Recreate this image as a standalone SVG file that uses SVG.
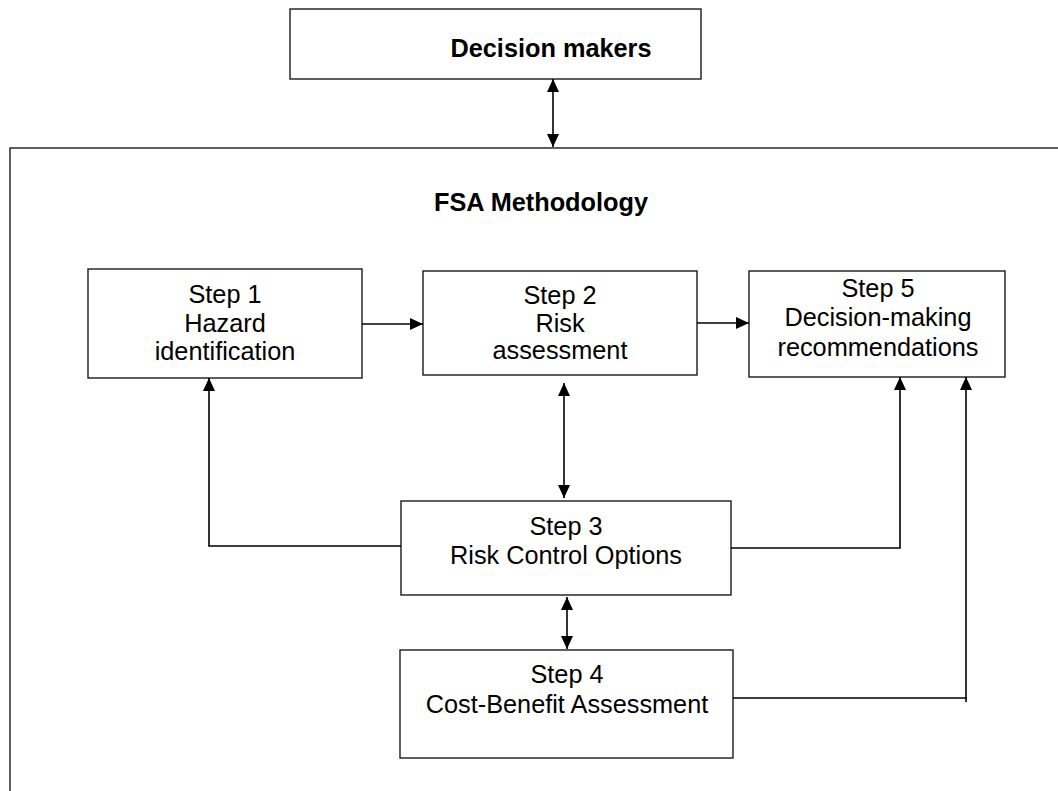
<svg xmlns="http://www.w3.org/2000/svg" width="1058" height="791" viewBox="0 0 1058 791">
<style>
.box{fill:#fff;stroke:#1a1a1a;stroke-width:1.4}
.t{font-family:"Liberation Sans",Arial,sans-serif;font-size:25.3px;fill:#000;text-anchor:middle}
.b{font-weight:bold}
.c{fill:none;stroke:#000;stroke-width:1.6}
</style>
<defs>
<marker id="ah" viewBox="0 0 13 12" refX="13" refY="6" markerWidth="13" markerHeight="12" markerUnits="userSpaceOnUse" orient="auto-start-reverse">
<path d="M0,0 L13,6 L0,12 Z" fill="#000"/>
</marker>
</defs>
<rect width="1058" height="791" fill="#fff"/>
<g id="frame">
<rect class="box" x="10" y="148" width="1100" height="700"/>
<text class="t b" x="541" y="211">FSA Methodology</text>
</g>
<g id="decision-makers">
<rect class="box" x="290" y="9" width="411" height="70"/>
<text class="t b" x="551" y="57">Decision makers</text>
</g>
<g id="step1">
<rect class="box" x="88" y="269" width="274" height="109"/>
<text class="t" x="225" y="303">Step 1</text>
<text class="t" x="225" y="332">Hazard</text>
<text class="t" x="225" y="360">identification</text>
</g>
<g id="step2">
<rect class="box" x="423" y="271" width="274" height="104"/>
<text class="t" x="560" y="304">Step 2</text>
<text class="t" x="560" y="332">Risk</text>
<text class="t" x="560" y="359">assessment</text>
</g>
<g id="step5">
<rect class="box" x="749" y="271" width="256" height="106"/>
<text class="t" x="878" y="297">Step 5</text>
<text class="t" x="878" y="326">Decision-making</text>
<text class="t" x="878" y="356">recommendations</text>
</g>
<g id="step3">
<rect class="box" x="401" y="501" width="330" height="94"/>
<text class="t" x="566" y="535">Step 3</text>
<text class="t" x="566" y="564">Risk Control Options</text>
</g>
<g id="step4">
<rect class="box" x="400" y="650" width="333" height="108"/>
<text class="t" x="567" y="683">Step 4</text>
<text class="t" x="567" y="713">Cost-Benefit Assessment</text>
</g>
<g id="connectors">
<line class="c" x1="553" y1="79" x2="553" y2="147" marker-start="url(#ah)" marker-end="url(#ah)"/>
<line class="c" x1="362" y1="324" x2="423" y2="324" marker-end="url(#ah)"/>
<line class="c" x1="697" y1="323" x2="749" y2="323" marker-end="url(#ah)"/>
<line class="c" x1="564" y1="383" x2="564" y2="498" marker-start="url(#ah)" marker-end="url(#ah)"/>
<line class="c" x1="567" y1="597" x2="567" y2="649" marker-start="url(#ah)" marker-end="url(#ah)"/>
<polyline class="c" points="401,546 209,546 209,378" marker-end="url(#ah)"/>
<polyline class="c" points="731,548 900,548 900,377" marker-end="url(#ah)"/>
<polyline class="c" points="733,698 966,698 966,377" marker-end="url(#ah)"/>
<line class="c" x1="966" y1="697" x2="966" y2="702"/>
</g>
</svg>
